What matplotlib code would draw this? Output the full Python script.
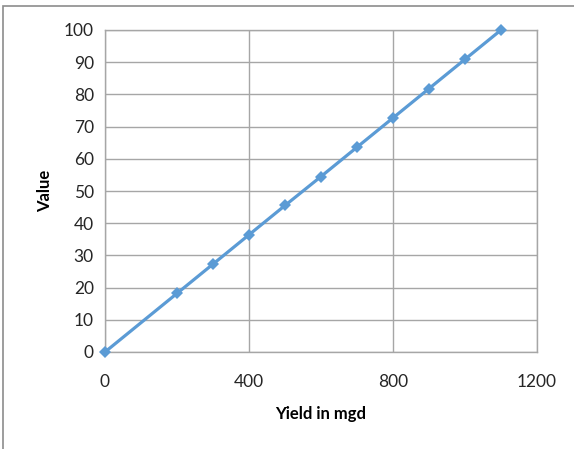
import matplotlib
matplotlib.use("Agg")
import matplotlib.pyplot as plt
from matplotlib.patches import Rectangle

# Yield (mgd) against computed value
yield_mgd = [0, 200, 300, 400, 500, 600, 700, 800, 900, 1000, 1100]
value = [0, 18.2, 27.3, 36.4, 45.5, 54.5, 63.6, 72.7, 81.8, 90.9, 100]

x_ticks = [0, 400, 800, 1200]
y_ticks = list(range(0, 101, 10))

plt.rcParams['font.family'] = ['Lato', 'DejaVu Sans']

W, H, DPI = 574, 449, 100
fig = plt.figure(figsize=(W / DPI, H / DPI), dpi=DPI)

# outer chart frame
fig.patches.append(Rectangle((3 / W, -0.1), 2, (H - 6) / H + 0.1,
                             transform=fig.transFigure, fill=False,
                             edgecolor='#8c8c8c', linewidth=1.2))

left, right, top, bottom = 105, 537, 30, 352
ax = fig.add_axes([left / W, 1 - bottom / H, (right - left) / W, (bottom - top) / H])

grid_c = '#a6a6a6'
ax.plot(yield_mgd, value, color='#5b9bd5', linewidth=2.3, marker='D',
        markersize=6.5, markeredgewidth=0, zorder=3, clip_on=False)

ax.set_xlim(0, 1200)
ax.set_ylim(0, 100)
ax.set_xticks(x_ticks)
ax.set_yticks(y_ticks)
ax.grid(True, color=grid_c, linewidth=1.0)
for s in ax.spines.values():
    s.set_color(grid_c)
    s.set_linewidth(1.0)
ax.tick_params(length=0, labelsize=12.5, colors='#262626')
ax.tick_params(axis='x', pad=16)
ax.tick_params(axis='y', pad=8)

ax.set_xlabel('Yield in mgd', fontsize=12, fontweight='bold', labelpad=11)
ax.set_ylabel('Value', fontsize=12, fontweight='bold', labelpad=8)

fig.savefig('out.png', dpi=DPI)
